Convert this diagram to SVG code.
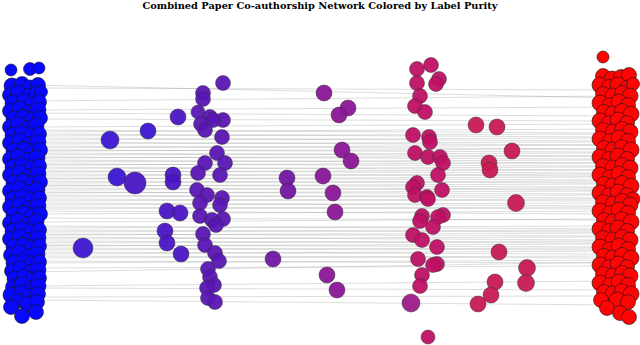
<svg xmlns="http://www.w3.org/2000/svg" width="640" height="345" viewBox="0 0 640 345">
<style>
.e{stroke:#8c8c8c;stroke-opacity:.5;stroke-width:.6}
circle{stroke:#151515;stroke-width:.6}
.b circle{fill:#0808ff}
.r circle{fill:#ff0404}
.m circle{stroke:#333;stroke-opacity:.8;fill-opacity:.95}
.c1{fill:#3d16d2}.c2{fill:#4a15c4}.c3{fill:#5a16b4}.c4{fill:#7016a2}.c5{fill:#8a1696}.c6{fill:#9e1a88}.c7{fill:#bf1064}.c8{fill:#c81a52}
</style>
<rect width="640" height="345" fill="#fff"/>
<text x="320" y="8.5" text-anchor="middle" font-family="DejaVu Serif, serif" font-weight="bold" font-size="9.8">Combined Paper Co-authorship Network Colored by Label Purity</text>
<g id="edges">
<line class="e" x1="30" y1="85" x2="615" y2="98"/><line class="e" x1="30" y1="88" x2="615" y2="90"/><line class="e" x1="30" y1="101" x2="615" y2="96"/><line class="e" x1="30" y1="110" x2="615" y2="107"/><line class="e" x1="30" y1="113" x2="615" y2="116"/><line class="e" x1="30" y1="119" x2="615" y2="121"/><line class="e" x1="30" y1="127" x2="615" y2="124"/>
<line class="e" x1="30" y1="130" x2="615" y2="133"/><line class="e" x1="30" y1="132" x2="615" y2="129"/><line class="e" x1="30" y1="134" x2="615" y2="137"/><line class="e" x1="30" y1="136" x2="615" y2="134"/><line class="e" x1="30" y1="138" x2="615" y2="141"/><line class="e" x1="30" y1="140" x2="615" y2="138"/><line class="e" x1="30" y1="142" x2="615" y2="145"/><line class="e" x1="30" y1="144" x2="615" y2="142"/><line class="e" x1="30" y1="146" x2="615" y2="149"/><line class="e" x1="30" y1="148" x2="615" y2="145"/><line class="e" x1="30" y1="150" x2="615" y2="152"/><line class="e" x1="30" y1="151" x2="615" y2="149"/><line class="e" x1="30" y1="153" x2="615" y2="156"/><line class="e" x1="30" y1="155" x2="615" y2="153"/><line class="e" x1="30" y1="157" x2="615" y2="159"/><line class="e" x1="30" y1="158" x2="615" y2="156"/><line class="e" x1="30" y1="160" x2="615" y2="163"/><line class="e" x1="30" y1="162" x2="615" y2="160"/><line class="e" x1="30" y1="164" x2="615" y2="166"/><line class="e" x1="30" y1="165" x2="615" y2="163"/><line class="e" x1="30" y1="167" x2="615" y2="170"/><line class="e" x1="30" y1="169" x2="615" y2="167"/><line class="e" x1="30" y1="171" x2="615" y2="173"/><line class="e" x1="30" y1="172" x2="615" y2="170"/><line class="e" x1="30" y1="174" x2="615" y2="176"/><line class="e" x1="30" y1="176" x2="615" y2="174"/><line class="e" x1="30" y1="178" x2="615" y2="180"/><line class="e" x1="30" y1="179" x2="615" y2="177"/><line class="e" x1="30" y1="181" x2="615" y2="183"/><line class="e" x1="30" y1="183" x2="615" y2="181"/><line class="e" x1="30" y1="185" x2="615" y2="187"/><line class="e" x1="30" y1="186" x2="615" y2="184"/><line class="e" x1="30" y1="188" x2="615" y2="190"/><line class="e" x1="30" y1="190" x2="615" y2="188"/><line class="e" x1="30" y1="192" x2="615" y2="194"/><line class="e" x1="30" y1="193" x2="615" y2="191"/><line class="e" x1="30" y1="195" x2="615" y2="198"/><line class="e" x1="30" y1="197" x2="615" y2="195"/><line class="e" x1="30" y1="199" x2="615" y2="201"/><line class="e" x1="30" y1="201" x2="615" y2="199"/><line class="e" x1="30" y1="203" x2="615" y2="206"/><line class="e" x1="30" y1="205" x2="615" y2="203"/><line class="e" x1="30" y1="207" x2="615" y2="209"/><line class="e" x1="30" y1="209" x2="615" y2="207"/><line class="e" x1="30" y1="211" x2="615" y2="214"/><line class="e" x1="30" y1="214" x2="615" y2="211"/>
<line class="e" x1="30" y1="218" x2="615" y2="220"/><line class="e" x1="30" y1="222" x2="615" y2="219"/>
<line class="e" x1="30" y1="226" x2="615" y2="229"/><line class="e" x1="30" y1="228" x2="615" y2="226"/><line class="e" x1="30" y1="230" x2="615" y2="232"/><line class="e" x1="30" y1="232" x2="615" y2="230"/><line class="e" x1="30" y1="234" x2="615" y2="236"/><line class="e" x1="30" y1="235" x2="615" y2="233"/><line class="e" x1="30" y1="237" x2="615" y2="240"/><line class="e" x1="30" y1="239" x2="615" y2="237"/><line class="e" x1="30" y1="241" x2="615" y2="243"/><line class="e" x1="30" y1="243" x2="615" y2="241"/><line class="e" x1="30" y1="245" x2="615" y2="247"/><line class="e" x1="30" y1="246" x2="615" y2="244"/><line class="e" x1="30" y1="248" x2="615" y2="250"/><line class="e" x1="30" y1="250" x2="615" y2="248"/><line class="e" x1="30" y1="252" x2="615" y2="254"/><line class="e" x1="30" y1="254" x2="615" y2="251"/><line class="e" x1="30" y1="256" x2="615" y2="258"/><line class="e" x1="30" y1="258" x2="615" y2="256"/><line class="e" x1="30" y1="261" x2="615" y2="263"/><line class="e" x1="30" y1="263" x2="615" y2="260"/>
<line class="e" x1="30" y1="268" x2="615" y2="266"/><line class="e" x1="30" y1="272" x2="615" y2="262"/><line class="e" x1="30" y1="286" x2="615" y2="281"/><line class="e" x1="30" y1="288" x2="615" y2="290"/><line class="e" x1="30" y1="297" x2="615" y2="296"/><line class="e" x1="30" y1="300" x2="615" y2="305"/>
</g>
<g id="blue-cluster" class="b">
<circle cx="11" cy="70" r="6"/><circle cx="30" cy="69" r="6.5"/><circle cx="39" cy="68" r="6"/>
<circle cx="12" cy="86" r="8"/><circle cx="22" cy="84" r="7.5"/><circle cx="30" cy="88" r="8"/><circle cx="38" cy="85" r="7.5"/>
<circle cx="10" cy="95" r="7.5"/><circle cx="18" cy="93" r="8"/><circle cx="28" cy="96" r="7.5"/><circle cx="37" cy="94" r="8"/><circle cx="41" cy="92" r="6.5"/>
<circle cx="13" cy="103" r="8"/><circle cx="24" cy="101" r="7.5"/><circle cx="33" cy="104" r="8"/><circle cx="39" cy="102" r="7.5"/>
<circle cx="10" cy="111" r="7.5"/><circle cx="20" cy="109" r="8"/><circle cx="29" cy="112" r="7.5"/><circle cx="38" cy="110" r="8"/>
<circle cx="14" cy="119" r="8"/><circle cx="23" cy="117" r="7.5"/><circle cx="32" cy="120" r="8"/><circle cx="40" cy="118" r="7.5"/>
<circle cx="10" cy="127" r="7.5"/><circle cx="18" cy="125" r="8"/><circle cx="27" cy="128" r="7.5"/><circle cx="36" cy="126" r="8"/>
<circle cx="13" cy="135" r="8"/><circle cx="22" cy="133" r="7.5"/><circle cx="31" cy="136" r="8"/><circle cx="39" cy="134" r="7.5"/>
<circle cx="10" cy="143" r="7.5"/><circle cx="20" cy="141" r="8"/><circle cx="29" cy="144" r="7.5"/><circle cx="38" cy="142" r="8"/>
<circle cx="14" cy="151" r="8"/><circle cx="24" cy="149" r="7.5"/><circle cx="33" cy="152" r="8"/><circle cx="40" cy="150" r="7.5"/>
<circle cx="10" cy="159" r="7.5"/><circle cx="18" cy="157" r="8"/><circle cx="27" cy="160" r="7.5"/><circle cx="37" cy="158" r="8"/>
<circle cx="13" cy="167" r="8"/><circle cx="22" cy="165" r="7.5"/><circle cx="32" cy="168" r="8"/><circle cx="39" cy="166" r="7.5"/>
<circle cx="10" cy="175" r="7.5"/><circle cx="20" cy="173" r="8"/><circle cx="29" cy="176" r="7.5"/><circle cx="38" cy="174" r="8"/>
<circle cx="14" cy="183" r="8"/><circle cx="23" cy="181" r="7.5"/><circle cx="32" cy="184" r="8"/><circle cx="40" cy="182" r="7.5"/>
<circle cx="10" cy="191" r="7.5"/><circle cx="19" cy="189" r="8"/><circle cx="28" cy="192" r="7.5"/><circle cx="37" cy="190" r="8"/>
<circle cx="13" cy="199" r="8"/><circle cx="22" cy="197" r="7.5"/><circle cx="31" cy="200" r="8"/><circle cx="39" cy="198" r="7.5"/>
<circle cx="10" cy="207" r="7.5"/><circle cx="20" cy="205" r="8"/><circle cx="29" cy="208" r="7.5"/><circle cx="38" cy="206" r="8"/>
<circle cx="14" cy="215" r="8"/><circle cx="24" cy="213" r="7.5"/><circle cx="33" cy="216" r="8"/><circle cx="40" cy="214" r="7.5"/>
<circle cx="10" cy="223" r="7.5"/><circle cx="18" cy="221" r="8"/><circle cx="27" cy="224" r="7.5"/><circle cx="36" cy="222" r="8"/>
<circle cx="13" cy="231" r="8"/><circle cx="22" cy="229" r="7.5"/><circle cx="31" cy="232" r="8"/><circle cx="39" cy="230" r="7.5"/>
<circle cx="10" cy="239" r="7.5"/><circle cx="20" cy="237" r="8"/><circle cx="29" cy="240" r="7.5"/><circle cx="38" cy="238" r="8"/>
<circle cx="14" cy="247" r="8"/><circle cx="23" cy="245" r="7.5"/><circle cx="32" cy="248" r="8"/><circle cx="39" cy="246" r="7.5"/>
<circle cx="11" cy="255" r="7.5"/><circle cx="19" cy="253" r="8"/><circle cx="28" cy="256" r="7.5"/><circle cx="37" cy="254" r="8"/>
<circle cx="14" cy="263" r="8"/><circle cx="23" cy="261" r="7.5"/><circle cx="32" cy="264" r="8"/><circle cx="39" cy="262" r="7.5"/>
<circle cx="12" cy="271" r="7.5"/><circle cx="21" cy="269" r="8"/><circle cx="30" cy="272" r="7.5"/><circle cx="38" cy="270" r="8"/>
<circle cx="15" cy="279" r="8"/><circle cx="24" cy="277" r="7.5"/><circle cx="33" cy="280" r="8"/><circle cx="39" cy="278" r="7.5"/>
<circle cx="13" cy="287" r="7.5"/><circle cx="22" cy="285" r="8"/><circle cx="31" cy="288" r="7.5"/><circle cx="38" cy="286" r="8"/>
<circle cx="11" cy="295" r="8"/><circle cx="21" cy="293" r="7.5"/><circle cx="30" cy="296" r="8"/><circle cx="38" cy="294" r="7.5"/>
<circle cx="17" cy="301" r="7.5"/><circle cx="28" cy="304" r="8"/><circle cx="37" cy="302" r="7.5"/>
<circle cx="11" cy="307" r="7.5"/><circle cx="36" cy="312" r="7.5"/><circle cx="22" cy="316" r="7.5"/>
</g>
<g id="red-cluster" class="r">
<circle cx="603" cy="57" r="6"/>
<circle cx="603" cy="76" r="7.5"/><circle cx="612" cy="79" r="8"/><circle cx="621" cy="77" r="7.5"/><circle cx="629" cy="75" r="7.5"/>
<circle cx="600" cy="85" r="8"/><circle cx="609" cy="87" r="7.5"/><circle cx="618" cy="85" r="8"/><circle cx="627" cy="88" r="7.5"/><circle cx="633" cy="84" r="6.5"/>
<circle cx="603" cy="94" r="7.5"/><circle cx="613" cy="96" r="8"/><circle cx="622" cy="93" r="7.5"/><circle cx="630" cy="96" r="8"/>
<circle cx="600" cy="103" r="8"/><circle cx="610" cy="105" r="7.5"/><circle cx="619" cy="102" r="8"/><circle cx="628" cy="105" r="7.5"/>
<circle cx="604" cy="112" r="7.5"/><circle cx="613" cy="114" r="8"/><circle cx="622" cy="111" r="7.5"/><circle cx="631" cy="114" r="8"/>
<circle cx="600" cy="121" r="8"/><circle cx="609" cy="123" r="7.5"/><circle cx="618" cy="120" r="8"/><circle cx="627" cy="123" r="7.5"/>
<circle cx="603" cy="130" r="7.5"/><circle cx="613" cy="132" r="8"/><circle cx="622" cy="129" r="7.5"/><circle cx="630" cy="132" r="8"/>
<circle cx="600" cy="139" r="8"/><circle cx="610" cy="141" r="7.5"/><circle cx="619" cy="138" r="8"/><circle cx="628" cy="141" r="7.5"/>
<circle cx="604" cy="148" r="7.5"/><circle cx="613" cy="150" r="8"/><circle cx="622" cy="147" r="7.5"/><circle cx="631" cy="150" r="8"/>
<circle cx="600" cy="157" r="8"/><circle cx="609" cy="159" r="7.5"/><circle cx="618" cy="156" r="8"/><circle cx="627" cy="159" r="7.5"/>
<circle cx="603" cy="166" r="7.5"/><circle cx="613" cy="168" r="8"/><circle cx="622" cy="165" r="7.5"/><circle cx="630" cy="168" r="8"/>
<circle cx="600" cy="175" r="8"/><circle cx="610" cy="177" r="7.5"/><circle cx="619" cy="174" r="8"/><circle cx="628" cy="177" r="7.5"/>
<circle cx="604" cy="184" r="7.5"/><circle cx="613" cy="186" r="8"/><circle cx="622" cy="183" r="7.5"/><circle cx="631" cy="186" r="8"/>
<circle cx="600" cy="193" r="8"/><circle cx="609" cy="195" r="7.5"/><circle cx="618" cy="192" r="8"/><circle cx="627" cy="195" r="7.5"/><circle cx="633" cy="199" r="7"/>
<circle cx="603" cy="202" r="7.5"/><circle cx="613" cy="204" r="8"/><circle cx="622" cy="201" r="7.5"/><circle cx="630" cy="205" r="8"/>
<circle cx="600" cy="211" r="8"/><circle cx="610" cy="213" r="7.5"/><circle cx="619" cy="210" r="8"/><circle cx="628" cy="213" r="7.5"/>
<circle cx="604" cy="220" r="7.5"/><circle cx="613" cy="222" r="8"/><circle cx="622" cy="219" r="7.5"/><circle cx="631" cy="222" r="8"/>
<circle cx="600" cy="229" r="8"/><circle cx="609" cy="231" r="7.5"/><circle cx="618" cy="228" r="8"/><circle cx="627" cy="231" r="7.5"/>
<circle cx="603" cy="238" r="7.5"/><circle cx="613" cy="240" r="8"/><circle cx="622" cy="237" r="7.5"/><circle cx="630" cy="240" r="8"/>
<circle cx="600" cy="247" r="8"/><circle cx="610" cy="249" r="7.5"/><circle cx="619" cy="246" r="8"/><circle cx="628" cy="249" r="7.5"/>
<circle cx="604" cy="256" r="7.5"/><circle cx="613" cy="258" r="8"/><circle cx="622" cy="255" r="7.5"/><circle cx="631" cy="258" r="8"/>
<circle cx="600" cy="265" r="8"/><circle cx="609" cy="267" r="7.5"/><circle cx="618" cy="264" r="8"/><circle cx="627" cy="267" r="7.5"/>
<circle cx="603" cy="274" r="7.5"/><circle cx="613" cy="276" r="8"/><circle cx="622" cy="273" r="7.5"/><circle cx="630" cy="276" r="8"/>
<circle cx="600" cy="283" r="8"/><circle cx="610" cy="285" r="7.5"/><circle cx="619" cy="282" r="8"/><circle cx="628" cy="285" r="7.5"/>
<circle cx="604" cy="292" r="7.5"/><circle cx="613" cy="294" r="8"/><circle cx="622" cy="291" r="7.5"/><circle cx="631" cy="294" r="8"/>
<circle cx="601" cy="300" r="7.5"/><circle cx="617" cy="300" r="8"/><circle cx="628" cy="302" r="7.5"/>
<circle cx="607" cy="308" r="7.5"/><circle cx="620" cy="313" r="7.5"/><circle cx="629" cy="317" r="7.5"/>
</g>
<g id="mixed-nodes" class="m">
<circle class="c1" cx="110" cy="140" r="9"/><circle class="c1" cx="148" cy="131" r="8"/><circle class="c1" cx="117" cy="177" r="9"/><circle class="c2" cx="135" cy="183" r="11"/><circle class="c1" cx="83" cy="248" r="10"/>
<circle class="c2" cx="178" cy="117" r="8"/><circle class="c2" cx="173" cy="175" r="8"/><circle class="c2" cx="173" cy="182" r="8"/><circle class="c2" cx="167" cy="211" r="8"/><circle class="c2" cx="180" cy="213" r="8"/><circle class="c2" cx="165" cy="231" r="8"/><circle class="c2" cx="167" cy="243" r="8"/><circle class="c2" cx="181" cy="254" r="8"/>
<circle class="c3" cx="223" cy="83" r="7.5"/><circle class="c3" cx="203" cy="93" r="7.5"/><circle class="c3" cx="203" cy="99" r="7.5"/><circle class="c3" cx="198" cy="112" r="7"/><circle class="c3" cx="223" cy="120" r="7.5"/><circle class="c3" cx="210" cy="117" r="7.5"/><circle class="c3" cx="213" cy="120" r="7.5"/><circle class="c3" cx="201" cy="124" r="7.5"/><circle class="c3" cx="205" cy="130" r="7.5"/><circle class="c3" cx="222" cy="137" r="7.5"/><circle class="c3" cx="217" cy="153" r="7.5"/><circle class="c3" cx="225" cy="163" r="7.5"/><circle class="c3" cx="205" cy="163" r="7.5"/><circle class="c3" cx="198" cy="173" r="7.5"/><circle class="c3" cx="220" cy="175" r="7.5"/><circle class="c3" cx="197" cy="190" r="7.5"/><circle class="c3" cx="222" cy="198" r="7.5"/><circle class="c3" cx="207" cy="195" r="7.5"/><circle class="c3" cx="220" cy="205" r="7.5"/><circle class="c3" cx="200" cy="203" r="7.5"/><circle class="c3" cx="200" cy="216" r="7.5"/><circle class="c3" cx="223" cy="219" r="7.5"/><circle class="c3" cx="212" cy="220" r="7.5"/><circle class="c3" cx="216" cy="225" r="7.5"/><circle class="c3" cx="203" cy="234" r="7.5"/><circle class="c3" cx="205" cy="245" r="7.5"/><circle class="c3" cx="215" cy="253" r="7.5"/><circle class="c3" cx="219" cy="261" r="7.5"/><circle class="c3" cx="208" cy="269" r="7.5"/><circle class="c3" cx="210" cy="277" r="7.5"/><circle class="c3" cx="214" cy="285" r="7.5"/><circle class="c3" cx="207" cy="288" r="7.5"/><circle class="c3" cx="208" cy="298" r="7.5"/><circle class="c3" cx="215" cy="302" r="7.5"/>
<circle class="c4" cx="287" cy="178" r="8"/><circle class="c4" cx="288" cy="191" r="8"/><circle class="c4" cx="273" cy="259" r="8"/>
<circle class="c5" cx="324" cy="93" r="8"/><circle class="c5" cx="348" cy="108" r="8"/><circle class="c5" cx="339" cy="115" r="8"/><circle class="c5" cx="342" cy="150" r="8"/><circle class="c5" cx="351" cy="161" r="8"/><circle class="c5" cx="323" cy="176" r="8"/><circle class="c5" cx="333" cy="193" r="8"/><circle class="c5" cx="335" cy="212" r="8"/><circle class="c5" cx="327" cy="275" r="8"/><circle class="c5" cx="337" cy="290" r="8"/>
<circle class="c6" cx="411" cy="303" r="9"/>
<circle class="c7" cx="417" cy="69" r="7.5"/><circle class="c7" cx="431" cy="65" r="7.5"/><circle class="c7" cx="417" cy="83" r="7.5"/><circle class="c7" cx="439" cy="79" r="7.5"/><circle class="c7" cx="436" cy="84" r="7.5"/><circle class="c7" cx="420" cy="96" r="7.5"/><circle class="c7" cx="415" cy="106" r="7.5"/><circle class="c7" cx="425" cy="112" r="7.5"/><circle class="c7" cx="413" cy="135" r="7.5"/><circle class="c7" cx="429" cy="137" r="7.5"/><circle class="c7" cx="430" cy="142" r="7.5"/><circle class="c7" cx="415" cy="153" r="7.5"/><circle class="c7" cx="428" cy="157" r="7.5"/><circle class="c7" cx="440" cy="157" r="7.5"/><circle class="c7" cx="443" cy="163" r="7.5"/><circle class="c7" cx="438" cy="175" r="7.5"/><circle class="c7" cx="417" cy="183" r="7.5"/><circle class="c7" cx="413" cy="187" r="7.5"/><circle class="c7" cx="442" cy="190" r="7.5"/><circle class="c7" cx="415" cy="195" r="7.5"/><circle class="c7" cx="427" cy="197" r="7.5"/><circle class="c7" cx="428" cy="199" r="7.5"/><circle class="c7" cx="443" cy="215" r="7.5"/><circle class="c7" cx="438" cy="217" r="7.5"/><circle class="c7" cx="422" cy="216" r="7.5"/><circle class="c7" cx="420" cy="221" r="7.5"/><circle class="c7" cx="433" cy="227" r="7.5"/><circle class="c7" cx="413" cy="235" r="7.5"/><circle class="c7" cx="422" cy="240" r="7.5"/><circle class="c7" cx="437" cy="247" r="7.5"/><circle class="c7" cx="418" cy="259" r="7.5"/><circle class="c7" cx="437" cy="264" r="7.5"/><circle class="c7" cx="433" cy="265" r="7.5"/><circle class="c7" cx="422" cy="275" r="7.5"/><circle class="c7" cx="420" cy="286" r="7.5"/><circle class="c7" cx="428" cy="337" r="7"/>
<circle class="c8" cx="476" cy="125" r="8"/><circle class="c8" cx="497" cy="127" r="8"/><circle class="c8" cx="512" cy="151" r="8"/><circle class="c8" cx="489" cy="163" r="8"/><circle class="c8" cx="490" cy="170" r="8"/><circle class="c8" cx="516" cy="203" r="8.5"/><circle class="c8" cx="499" cy="252" r="8"/><circle class="c8" cx="527" cy="268" r="8.5"/><circle class="c8" cx="526" cy="283" r="8.5"/><circle class="c8" cx="495" cy="282" r="8"/><circle class="c8" cx="491" cy="295" r="8"/><circle class="c8" cx="478" cy="304" r="8"/>
</g>
</svg>
